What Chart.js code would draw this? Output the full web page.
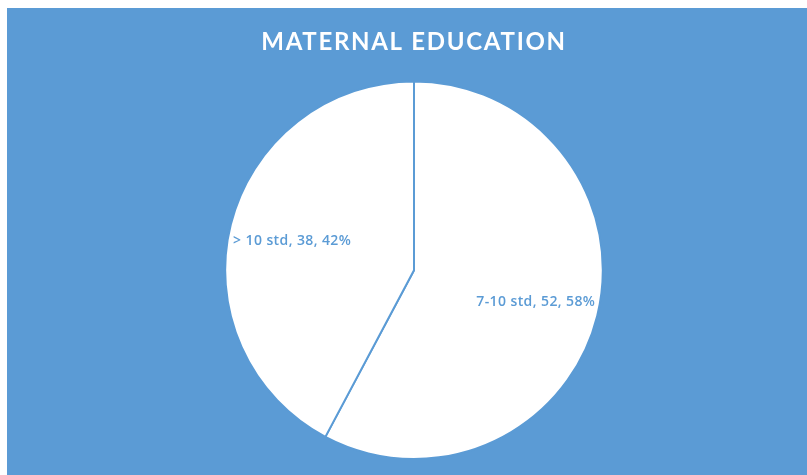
<!DOCTYPE html>
<html>
<head>
<meta charset="utf-8">
<script src="https://cdn.jsdelivr.net/npm/chart.js@4/dist/chart.umd.min.js"></script>
<style>
  html, body { margin: 0; padding: 0; background: #ffffff; }
  #wrap { position: absolute; left: 7px; top: 8px; width: 800px; height: 467px; background: #5B9BD5; }
</style>
</head>
<body>
<div id="wrap"><canvas id="c" width="800" height="467"></canvas></div>
<script>
const categories = ["7-10 std", "> 10 std"];
const values = [52, 38];
const percents = ["58%", "42%"];
const titleText = "MATERNAL EDUCATION";

const BLUE = "#5B9BD5";

const titleSpacing = {
  id: "titleSpacing",
  beforeDraw(chart) { chart.ctx.letterSpacing = "1.7px"; },
  beforeDatasetsDraw(chart) { chart.ctx.letterSpacing = "0px"; }
};

const sliceLabels = {
  id: "sliceLabels",
  afterDatasetsDraw(chart) {
    const ctx = chart.ctx;
    const meta = chart.getDatasetMeta(0);
    ctx.save();
    ctx.font = "600 14px 'Open Sans', sans-serif";
    ctx.letterSpacing = "0.4px";
    ctx.fillStyle = BLUE;
    ctx.textAlign = "center";
    ctx.textBaseline = "middle";
    meta.data.forEach((arc, i) => {
      const p = arc.getProps(["x", "y", "startAngle", "endAngle", "outerRadius"], true);
      const mid = (p.startAngle + p.endAngle) / 2;
      const r = p.outerRadius * 0.665;
      const x = p.x + Math.cos(mid) * r;
      const y = p.y + Math.sin(mid) * r;
      ctx.fillText(categories[i] + ", " + values[i] + ", " + percents[i], x, y + 1);
    });
    ctx.restore();
  }
};

new Chart(document.getElementById("c"), {
  type: "pie",
  data: {
    labels: categories,
    datasets: [{
      data: values,
      backgroundColor: ["#ffffff", "#ffffff"],
      borderColor: BLUE,
      borderWidth: 2
    }]
  },
  options: {
    responsive: false,
    animation: false,
    layout: { padding: { left: 217, right: 203, top: 0, bottom: 15 } },
    plugins: {
      legend: { display: false },
      tooltip: { enabled: false },
      title: {
        display: true,
        text: titleText,
        color: "#ffffff",
        font: { family: "Lato", size: 24, weight: "bold", lineHeight: 1.1 },
        padding: { top: 21, bottom: 25 }
      }
    }
  },
  plugins: [titleSpacing, sliceLabels]
});
</script>
</body>
</html>
